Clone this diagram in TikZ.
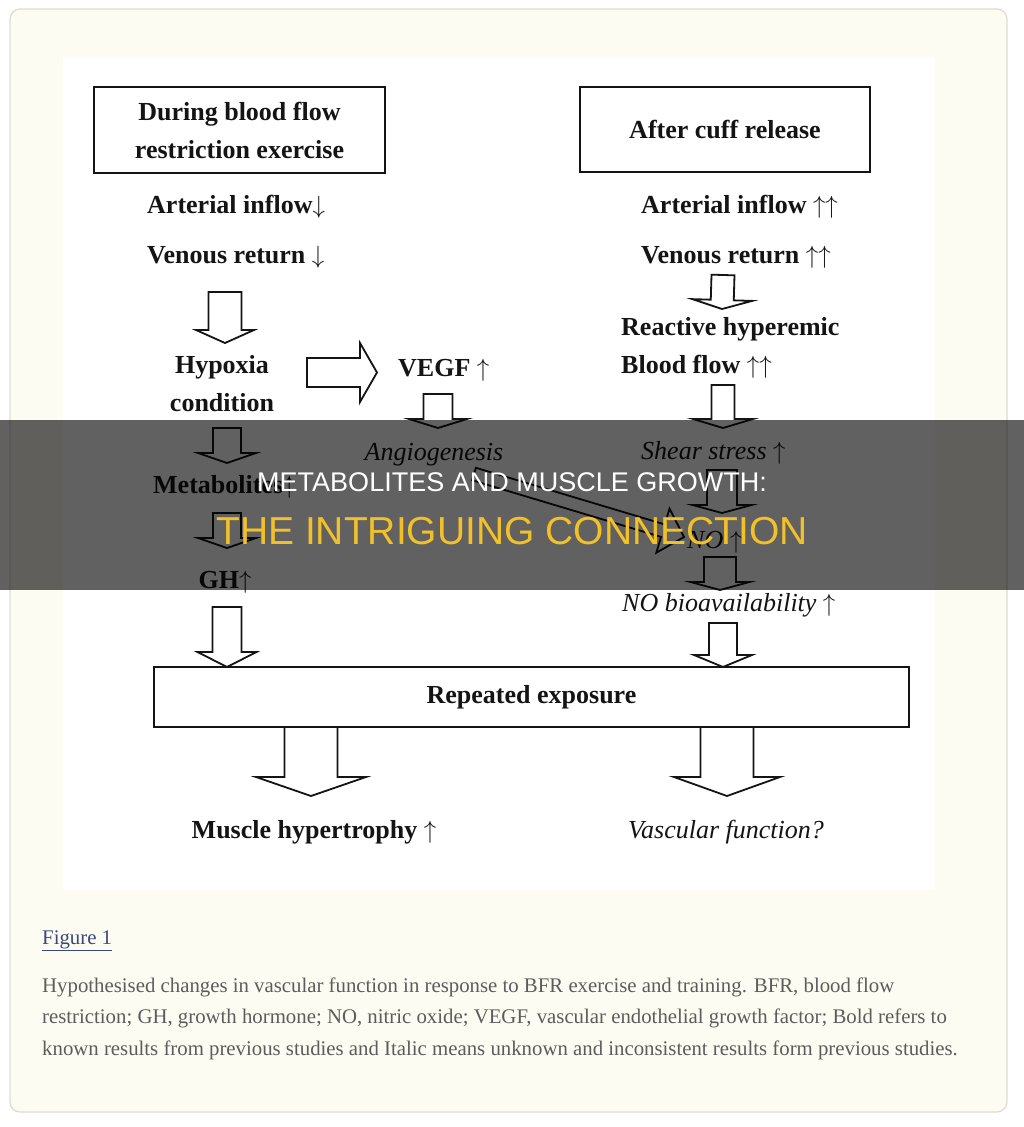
\documentclass[tikz,border=0pt]{standalone}
\usepackage{fontspec}
\setmainfont{Liberation Serif}
\newfontfamily\banfont{Liberation Sans}
\definecolor{cardbg}{RGB}{253,252,242}
\definecolor{cardline}{RGB}{222,220,210}
\definecolor{capgray}{RGB}{92,92,92}
\definecolor{figlink}{RGB}{58,72,120}
\definecolor{banyellow}{RGB}{242,192,40}
\definecolor{inkblack}{RGB}{20,20,20}
\usetikzlibrary{calc,positioning}

\newcommand{\upa}{{\fontsize{23}{23}\selectfont$\uparrow$}}
\newcommand{\dna}{{\fontsize{23}{23}\selectfont$\downarrow$}}

\begin{document}
\begin{tikzpicture}[x=1pt,y=-1pt,
    lbl/.style={inner sep=0pt,text=inkblack,font=\fontsize{26}{38}\selectfont\bfseries},
    ilbl/.style={inner sep=0pt,text=inkblack,font=\fontsize{26}{38}\selectfont\itshape},
    frame/.style={draw=inkblack,line width=2.2pt,outer sep=0pt,inner sep=0pt,align=center,
                  text=inkblack,font=\fontsize{26}{38}\selectfont\bfseries},
    blk/.style={draw=inkblack,line width=1.8pt},
    fat/.style n args={3}{
      to path={(\tikztostart) coordinate (fs) (\tikztotarget) coordinate (ft)
               ($(ft)!#3!(fs)$) coordinate (fb)
               ($(fs)!#1!90:(ft)$) -- ($(fb)!#1!90:(ft)$) -- ($(fb)!#2!90:(ft)$)
               -- (ft) -- ($(fb)!#2!-90:(ft)$) -- ($(fb)!#1!-90:(ft)$)
               -- ($(fs)!#1!-90:(ft)$) -- cycle}}]
  \useasboundingbox (0,0) rectangle (1024,1127);
  \fill[white] (0,0) rectangle (1024,1127);
  \filldraw[fill=cardbg,draw=cardline,line width=1.2pt,rounded corners=10pt] (10,9) rectangle (1007,1112);
  \fill[white] (63,57) rectangle (935,890);

  % left column
  \node[frame,minimum width=291,minimum height=86] (bfr) at (239.5,130) {During blood flow\\restriction exercise};
  \node[lbl,anchor=west] (art1) at (147,207) {Arterial inflow\dna};
  \node[lbl,anchor=west] (ven1) at (147,257) {Venous return \dna};
  \node[lbl,align=center] (hyp) at (222,384) {Hypoxia\\condition};
  \node[lbl,anchor=west] (vegf) at (398,370) {VEGF \upa};
  \node[ilbl] (ang) at (434,455) {Angiogenesis};
  \node[lbl,anchor=west] (met) at (153,487) {Metabolites\upa};
  \node[lbl] (gh) at (225,582) {GH\upa};

  % right column
  \node[frame,minimum width=290,minimum height=85] (cuff) at (725,129.5) {After cuff release};
  \node[lbl,anchor=west] (art2) at (641,207) {Arterial inflow \upa\upa};
  \node[lbl,anchor=west] (ven2) at (641,257) {Venous return \upa\upa};
  \node[lbl,anchor=west,align=left] (rea) at (621,348) {Reactive hyperemic\\Blood flow \upa\upa};
  \node[ilbl,anchor=west] (shear) at (641,453) {Shear stress \upa};
  \node[ilbl,anchor=west] (no) at (687,542) {NO \upa};
  \node[ilbl,anchor=west] (nob) at (622,605) {NO bioavailability \upa};

  % bottom
  \node[frame,minimum width=755,minimum height=60] (rep) at (531.5,697) {Repeated exposure};
  \node[lbl] (mus) at (314,832) {Muscle hypertrophy \upa};
  \node[ilbl] (vas) at (726,832) {Vascular function?};

  % block arrows
  \draw[blk] ($(ven1.west)+(78,35)$) to[fat={16.5pt}{29pt}{13pt}] ($(hyp)+(3,-41)$);
  \draw[blk] ($(hyp)+(85,-11.5)$) to[fat={14.5pt}{29.5pt}{17pt}] ($(vegf.west)+(-21,2.5)$);
  \draw[blk] ($(vegf.west)+(40,24)$) to[fat={14.5pt}{29pt}{9pt}] ($(ang)+(4,-27)$);
  \draw[blk] ($(hyp)+(5,44)$) to[fat={14pt}{29pt}{10pt}] ($(met.west)+(74,-24)$);
  \draw[blk] ($(met.west)+(74,26)$) to[fat={14pt}{29pt}{10pt}] ($(gh)+(2,-34)$);
  \draw[blk] ($(gh)+(2,25)$) to[fat={14.5pt}{29.5pt}{15pt}] ($(rep.north -| gh)+(2,0)$);
  \draw[blk] ($(ven2.west)+(82,18)$) to[fat={11.5pt}{30pt}{9pt}] ($(rea.west)+(101,-39)$);
  \draw[blk] ($(rea.west)+(102,37)$) to[fat={11.5pt}{30pt}{9pt}] ($(shear.west)+(82,-25)$);
  \draw[blk] ($(shear.west)+(81,17)$) to[fat={15pt}{29.5pt}{8pt}] ($(no.west)+(35,-29)$);
  \draw[blk] ($(no.west)+(33,15)$) to[fat={16pt}{29.5pt}{8pt}] ($(nob.west)+(98,-15)$);
  \draw[blk] ($(nob.west)+(101,18)$) to[fat={14pt}{29pt}{12pt}] ($(rep.north)+(191.5,0)$);
  \draw[blk] ($(rep.south)+(-220.5,0)$) to[fat={26.5pt}{55pt}{19pt}] ($(mus)+(-3,-36)$);
  \draw[blk] ($(rep.south)+(195.5,0)$) to[fat={26.5pt}{53pt}{19pt}] ($(vas)+(1,-36)$);
  \draw[blk] ($(ang)+(40,19)$) to[fat={6.5pt}{23pt}{22pt}] ($(no.west)+(-3,-5)$);

  % caption
  \node[anchor=west,inner sep=0pt,text=figlink,font=\fontsize{20.8}{31.5}\selectfont] (fig) at (42,941) {\underline{Figure 1}};
  \node[anchor=west,inner sep=0pt,align=left,text=capgray,font=\fontsize{20.8}{31.5}\selectfont] (cap) at (42,1018.5)
    {Hypothesised changes in vascular function in response to BFR exercise and training. BFR, blood flow\\
     restriction; GH, growth hormone; NO, nitric oxide; VEGF, vascular endothelial growth factor; Bold refers to\\
     known results from previous studies and Italic means unknown and inconsistent results form previous studies.};

  % title banner
  \fill[black,fill opacity=0.62] (0,420) rectangle (1024,590);
  \node[inner sep=0pt,text=white,font=\banfont\fontsize{27}{30}\selectfont] (ban1) at (512,482) {METABOLITES AND MUSCLE GROWTH:};
  \node[inner sep=0pt,text=banyellow,font=\banfont\fontsize{39}{42}\selectfont] (ban2) at (512,531) {THE INTRIGUING CONNECTION};
\end{tikzpicture}
\end{document}
